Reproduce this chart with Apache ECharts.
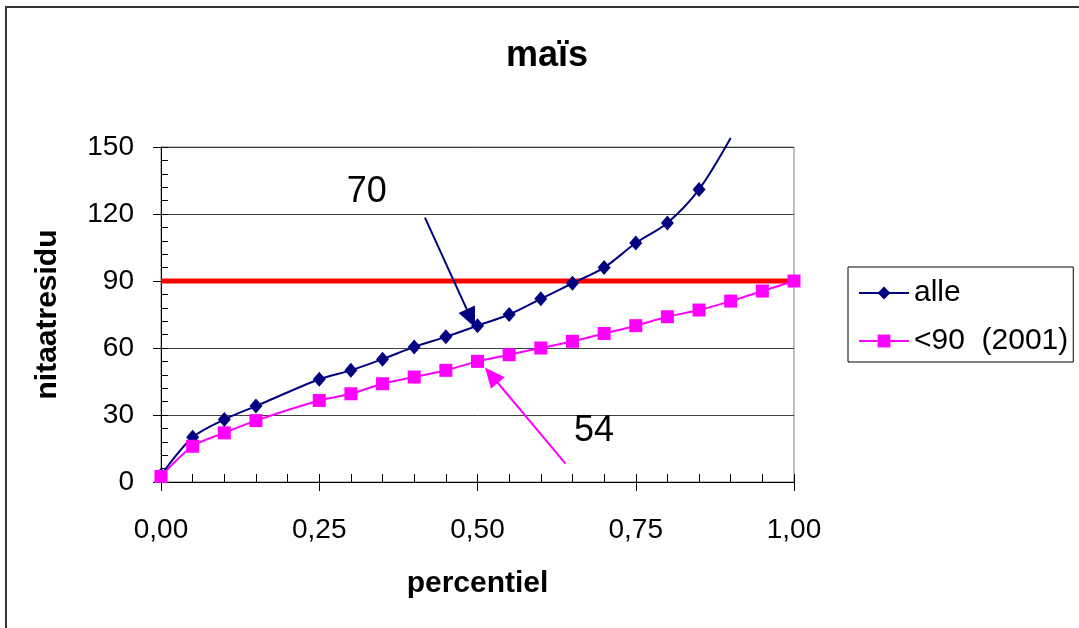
<!DOCTYPE html>
<html>
<head>
<meta charset="utf-8">
<title>maïs</title>
<script src="https://cdn.jsdelivr.net/npm/echarts@6/dist/echarts.min.js"></script>
<style>
  html, body { margin: 0; padding: 0; background: #ffffff; }
  #chart { width: 1079px; height: 628px; }
</style>
</head>
<body>
<div id="chart"></div>
<script>
// Nitrate residue per percentile (maize)
const chartTitle = 'maïs';
const seriesNames = ['alle', '<90  (2001)'];

const allePercentiles = [0.00, 0.05, 0.10, 0.15, 0.25, 0.30, 0.35, 0.40, 0.45, 0.50,
                         0.55, 0.60, 0.65, 0.70, 0.75, 0.80, 0.85, 0.90];
const alleValues      = [3, 20, 28, 34, 46, 50, 55, 60.5, 65, 70,
                         75, 82, 89, 96, 107, 116, 131, 154];

const onderPercentiles = [0.00, 0.05, 0.10, 0.15, 0.25, 0.30, 0.35, 0.40, 0.45, 0.50,
                          0.55, 0.60, 0.65, 0.70, 0.75, 0.80, 0.85, 0.90, 0.95, 1.00];
const onderValues      = [2.5, 16, 22, 27.5, 36.5, 39.5, 44, 47, 50, 54,
                          57, 60, 63, 66.5, 70, 74, 77, 81, 85.5, 90];

const limitValue = 90;          // norm line
const yTicks = [0, 30, 60, 90, 120, 150];
const xTicks = [0, 0.25, 0.5, 0.75, 1];

// annotation arrows (data units): start -> head
const alleArrow  = [[0.417, 118.4], [0.4896, 73.3]];
const onderArrow = [[0.639, 8.2], [0.522, 47.8]];
// annotation text anchors (data units), values taken at the median percentile
const medianPct = 0.50;
const alleLabelAt  = [0.325, 129.6];
const onderLabelAt = [0.684, 22.6];

const FONT = '"Liberation Sans", Arial, sans-serif';

function pairs(xs, ys) { return xs.map((x, i) => [x, ys[i]]); }

const alleData = pairs(allePercentiles, alleValues).map(p =>
  p[1] > yTicks[yTicks.length - 1] ? { value: p, symbol: 'none' } : p);
const onderData = pairs(onderPercentiles, onderValues);

const alleMedian  = alleValues[allePercentiles.indexOf(medianPct)];
const onderMedian = onderValues[onderPercentiles.indexOf(medianPct)];

const chart = echarts.init(document.getElementById('chart'), null, { renderer: 'canvas' });

const navy = '#000080';
const magenta = '#FF00FF';

const baseY = {
  type: 'value',
  min: yTicks[0],
  max: yTicks[yTicks.length - 1],
  interval: yTicks[1] - yTicks[0],
  position: 'left'
};
const baseX = {
  type: 'value',
  min: xTicks[0],
  max: xTicks[xTicks.length - 1],
  interval: xTicks[1] - xTicks[0],
  position: 'bottom'
};

chart.setOption({
  animation: false,
  backgroundColor: '#ffffff',
  title: {
    text: chartTitle,
    left: 506,
    top: 38,
    padding: 0,
    textStyle: { fontFamily: FONT, fontSize: 36, fontWeight: 'bold', color: '#000' }
  },
  legend: {
    data: seriesNames,
    orient: 'vertical',
    left: 848,
    top: 267,
    padding: [11, 5, 6, 10],
    itemGap: 18,
    itemWidth: 50,
    itemHeight: 16,
    borderColor: '#000',
    borderWidth: 1,
    backgroundColor: '#fff',
    textStyle: { fontFamily: FONT, fontSize: 30, color: '#000' }
  },
  grid: {
    left: 161, right: 285, top: 147, bottom: 146,
    show: true, borderColor: '#808080', borderWidth: 1, backgroundColor: 'transparent'
  },
  xAxis: [
    Object.assign({}, baseX, {
      name: 'percentiel',
      nameLocation: 'middle',
      nameGap: 87,
      nameTextStyle: { fontFamily: FONT, fontSize: 30, fontWeight: 'bold', color: '#000' },
      axisLine: { show: true, lineStyle: { color: '#000', width: 1 } },
      axisTick: { show: true, inside: false, length: 9, lineStyle: { color: '#000' } },
      minorTick: { show: false },
      splitLine: { show: false },
      axisLabel: {
        margin: 34,
        fontFamily: FONT, fontSize: 28, color: '#000',
        formatter: v => v.toFixed(2).replace('.', ',')
      }
    }),
    Object.assign({}, baseX, {
      axisLine: { show: false },
      axisTick: { show: true, inside: true, length: 8, lineStyle: { color: '#000' } },
      minorTick: { show: true, splitNumber: 5, length: 8, lineStyle: { color: '#000' } },
      splitLine: { show: false },
      axisLabel: { show: false }
    })
  ],
  yAxis: [
    Object.assign({}, baseY, {
      name: 'nitaatresidu',
      nameLocation: 'middle',
      nameGap: 98,
      nameTextStyle: { fontFamily: FONT, fontSize: 30, fontWeight: 'bold', color: '#000' },
      axisLine: { show: true, lineStyle: { color: '#000', width: 1 } },
      axisTick: { show: true, inside: false, length: 8, lineStyle: { color: '#000' } },
      minorTick: { show: false },
      splitLine: { show: true, lineStyle: { color: '#404040', width: 1 } },
      axisLabel: { margin: 27, fontFamily: FONT, fontSize: 28, color: '#000' }
    }),
    Object.assign({}, baseY, {
      axisLine: { show: false },
      axisTick: { show: true, inside: true, length: 7, lineStyle: { color: '#000' } },
      minorTick: { show: true, splitNumber: 5, length: 7, lineStyle: { color: '#000' } },
      splitLine: { show: false },
      axisLabel: { show: false }
    })
  ],
  series: [
    {
      name: 'norm',
      type: 'line',
      data: [[xTicks[0], limitValue], [xTicks[xTicks.length - 1], limitValue]],
      symbol: 'none',
      lineStyle: { color: '#FF0000', width: 5 },
      silent: true,
      z: 1
    },
    {
      name: seriesNames[0],
      type: 'line',
      data: alleData,
      smooth: 0.3,
      clip: false,
      symbol: 'diamond',
      symbolSize: [13, 15],
      itemStyle: { color: navy },
      lineStyle: { color: navy, width: 2 },
      z: 3,
      markLine: {
        silent: true,
        symbol: ['none', 'triangle'],
        symbolSize: [18, 20],
        label: { show: false },
        lineStyle: { color: navy, width: 2, type: 'solid' },
        data: [[{ coord: alleArrow[0] }, { coord: alleArrow[1] }]]
      },
      markPoint: {
        silent: true,
        symbol: 'circle',
        symbolSize: 1,
        itemStyle: { color: 'transparent' },
        label: {
          show: true, position: 'inside',
          fontFamily: FONT, fontSize: 36, color: '#000',
          formatter: () => String(alleMedian)
        },
        data: [{ coord: alleLabelAt }]
      }
    },
    {
      name: seriesNames[1],
      type: 'line',
      data: onderData,
      smooth: 0.3,
      symbol: 'rect',
      symbolSize: 13,
      itemStyle: { color: magenta },
      lineStyle: { color: magenta, width: 2 },
      z: 4,
      markLine: {
        silent: true,
        symbol: ['none', 'triangle'],
        symbolSize: [18, 20],
        label: { show: false },
        lineStyle: { color: magenta, width: 2, type: 'solid' },
        data: [[{ coord: onderArrow[0] }, { coord: onderArrow[1] }]]
      },
      markPoint: {
        silent: true,
        symbol: 'circle',
        symbolSize: 1,
        itemStyle: { color: 'transparent' },
        label: {
          show: true, position: 'inside',
          fontFamily: FONT, fontSize: 36, color: '#000',
          formatter: () => String(onderMedian)
        },
        data: [{ coord: onderLabelAt }]
      }
    }
  ],
  graphic: [
    {
      type: 'rect',
      silent: true,
      z: -10,
      shape: { x: 6, y: 7, width: 1120, height: 700 },
      style: { fill: 'none', stroke: '#333', lineWidth: 2 }
    }
  ]
});
</script>
</body>
</html>
